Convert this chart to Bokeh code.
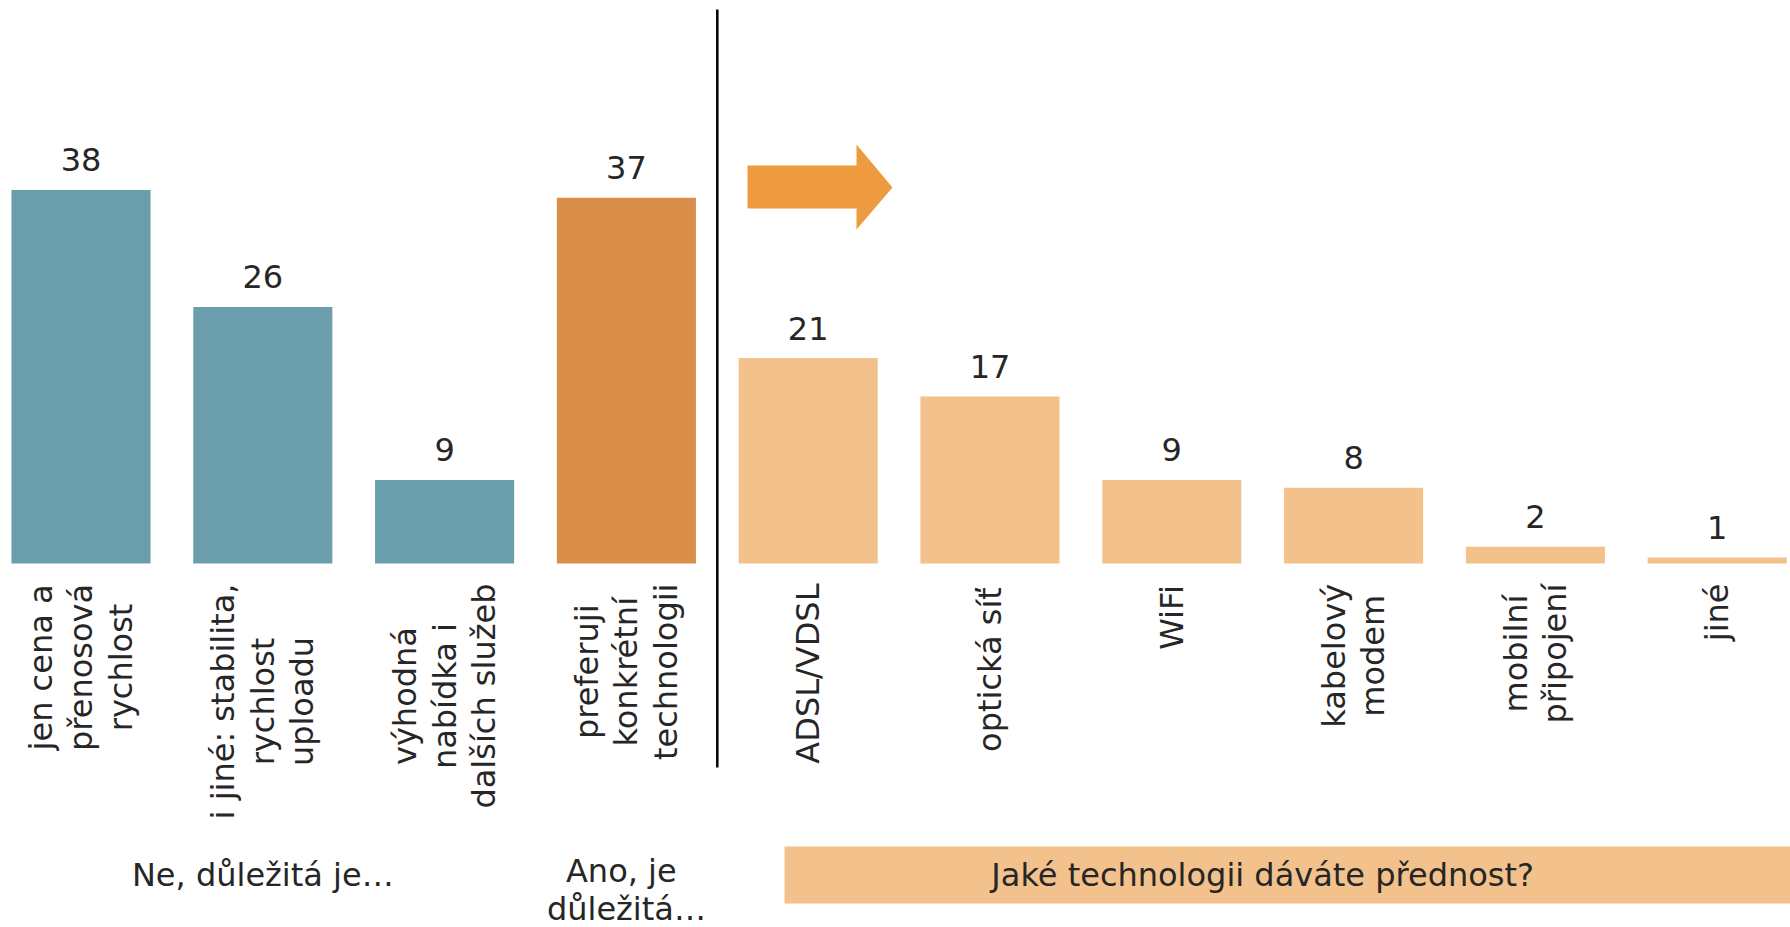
import math
from bokeh.plotting import figure
from bokeh.models import Range1d, ColumnDataSource, BoxAnnotation
from bokeh.core.properties import value
from bokeh.embed import file_html
from bokeh.resources import INLINE

# ---------------- data ----------------
categories = [
    "jen cena a\npřenosová\nrychlost",
    "i jiné: stabilita,\nrychlost\nuploadu",
    "výhodná\nnabídka i\ndalších služeb",
    "preferuji\nkonkrétní\ntechnologii",
    "ADSL/VDSL",
    "optická síť",
    "WiFi",
    "kabelový\nmodem",
    "mobilní\npřipojení",
    "jiné",
]
values = [38.0, 26.1, 8.5, 37.2, 20.9, 17.0, 8.5, 7.7, 1.7, 0.6]
value_labels = ["38", "26", "9", "37", "21", "17", "9", "8", "2", "1"]
groups = ["ne", "ne", "ne", "ano", "tech", "tech", "tech", "tech", "tech", "tech"]
group_names = ["ne", "ano", "tech"]
group_titles = ["Ne, důležitá je…", "Ano,  je\ndůležitá…", "Jaké technologii dáváte přednost?"]
group_colors = {"ne": "#6A9EAC", "ano": "#D98F4A", "tech": "#F3C28C"}

# ---------------- layout (page pixels) ----------------
W, H = 1790, 927
PAGE = 0
X0, DX = 80.5, 181.8      # page px of first category centre, px per category
Y0, DY = 563.0, 9.83      # page px of baseline, px per unit
FS = 32
TXT = "#262626"
FONT = "DejaVu Sans"


def xd(px):
    return (px - X0) / DX


def yd(py):
    return (Y0 - py) / DY


# DejaVu Sans advance widths (em) used to centre rotated multi-line labels
ADV = {" ": .318, "a": .613, "b": .635, "c": .550, "d": .635, "e": .615, "f": .352,
       "g": .635, "h": .634, "i": .278, "j": .278, "k": .579, "l": .278, "m": .974,
       "n": .634, "o": .612, "p": .635, "r": .411, "s": .521, "t": .392, "u": .634,
       "v": .592, "w": .818, "x": .592, "y": .592, "z": .525, ":": .337, ",": .318,
       "/": .337, "A": .684, "D": .770, "S": .635, "L": .557, "V": .684, "W": .989,
       "F": .575, "á": .613, "é": .615, "í": .278, "ý": .592, "ř": .411, "š": .521,
       "ž": .525, "ů": .634}


def text_w(s):
    return max(sum(ADV.get(c, .6) for c in line) for line in s.split("\n")) * FS


p = figure(width=W, height=H, output_backend="svg", toolbar_location=None,
           x_range=Range1d(xd(PAGE), xd(PAGE + W)),
           y_range=Range1d(yd(PAGE + H), yd(PAGE)),
           min_border=0, outline_line_color=None)
p.axis.visible = False
p.xgrid.visible = False
p.ygrid.visible = False
p.background_fill_color = "white"
p.border_fill_color = "white"

idx = list(range(len(categories)))
src = ColumnDataSource(dict(
    x=idx, top=values, lab=value_labels, cat=categories,
    color=[group_colors[g] for g in groups],
    yoff=[text_w(c) / 2 - 3 for c in categories],
))

# bars
p.vbar(x="x", top="top", bottom=0, width=0.765, fill_color="color",
       line_color=None, source=src)

# value labels
p.text(x="x", y="top", text="lab", source=src, y_offset=-30,
       text_align="center", text_baseline="alphabetic",
       text_font=value(FONT), text_font_size=f"{FS}px", text_color=TXT)

# rotated category labels (lines centred, block top at fixed height)
p.text(x="x", y=yd(586), text="cat", source=src, y_offset="yoff",
       angle=math.pi / 2, text_align="center", text_baseline="middle",
       text_line_height=1.04,
       text_font=value(FONT), text_font_size=f"{FS}px", text_color=TXT)

# separator line between groups
p.segment(x0=[3.5], y0=[yd(9)], x1=[3.5], y1=[yd(767)],
          line_color="black", line_width=2.5)

# arrow
ax = [xd(747), xd(856), xd(856), xd(892), xd(856), xd(856), xd(747)]
ay = [yd(165), yd(165), yd(144), yd(187), yd(229), yd(208), yd(208)]
p.patch(ax, ay, fill_color="#EE9A3E", line_color=None)

# group title box for technologies
p.add_layout(BoxAnnotation(left=xd(784), right=xd(1800), top=yd(846), bottom=yd(903),
                           fill_color="#F3C28C", fill_alpha=1.0, line_color=None,
                           level="underlay"))

# group titles
gx = [sum(i for i, g in enumerate(groups) if g == n) / groups.count(n) for n in group_names]
p.text(x=[gx[0], gx[2]], y=[yd(874), yd(874)], text=[group_titles[0], group_titles[2]],
       text_align="center", text_baseline="alphabetic",
       text_font=value(FONT), text_font_size=f"{FS}px", text_color=TXT)
p.text(x=[gx[1]], y=[yd(889)], text=[group_titles[1]],
       text_align="center", text_baseline="middle", text_line_height=1.0,
       text_font=value(FONT), text_font_size=f"{FS}px", text_color=TXT)

open("out.html", "w").write(file_html(p, INLINE))
